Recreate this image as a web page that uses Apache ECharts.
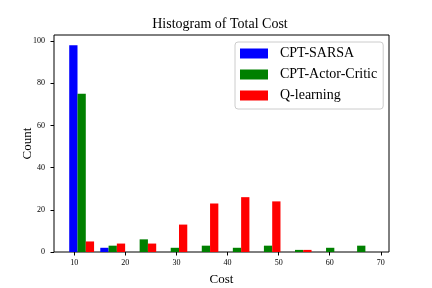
<!DOCTYPE html>
<html>
<head>
<meta charset="utf-8">
<script src="https://cdn.jsdelivr.net/npm/echarts@6/dist/echarts.min.js"></script>
<style>html,body{margin:0;padding:0;background:#fff}#c{width:432px;height:288px}</style>
</head>
<body>
<div id="c"></div>
<script>
// Histogram bin edges (Cost)
const binEdges = [8.41, 14.49, 20.57, 26.65, 32.73, 38.81, 44.89, 50.97, 57.05, 63.13, 69.21];
const seriesNames = ['CPT-SARSA', 'CPT-Actor-Critic', 'Q-learning'];
const sarsaCounts = [98, 2, 0, 0, 0, 0, 0, 0, 0, 0];
const actorCriticCounts = [75, 3, 6, 2, 3, 2, 3, 1, 2, 3];
const qLearningCounts = [5, 4, 4, 13, 23, 26, 24, 1, 0, 0];
const xTicks = [10, 20, 30, 40, 50, 60, 70];
const yTicks = [0, 20, 40, 60, 80, 100];

const colors = ['#0000ff', '#008000', '#ff0000'];
const allCounts = [sarsaCounts, actorCriticCounts, qLearningCounts];
const FONT = 'Liberation Serif';

function makeSeries(idx) {
  const data = allCounts[idx].map((c, i) => [binEdges[i], binEdges[i + 1], c]);
  return {
    name: seriesNames[idx],
    type: 'custom',
    itemStyle: { color: colors[idx] },
    encode: { x: [0, 1], y: 2 },
    data: data,
    renderItem: function (params, api) {
      const lo = api.value(0), hi = api.value(1), c = api.value(2);
      if (c <= 0) return null;
      const dw = hi - lo;
      const w = dw * 0.8 / 3;
      const x0 = lo + dw * 0.1 + idx * w;
      const p0 = api.coord([x0, c]);
      const p1 = api.coord([x0 + w, 0]);
      return {
        type: 'rect',
        shape: { x: p0[0], y: p0[1], width: p1[0] - p0[0], height: p1[1] - p0[1] },
        style: { fill: colors[idx] }
      };
    }
  };
}

const chart = echarts.init(document.getElementById('c'), null, { renderer: 'canvas' });
chart.setOption({
  animation: false,
  backgroundColor: '#fff',
  title: {
    text: 'Histogram of Total Cost',
    left: 220, top: 17, textAlign: 'center', padding: 0,
    textStyle: { fontFamily: FONT, fontSize: 14, fontWeight: 'normal', color: '#000' }
  },
  legend: {
    orient: 'vertical',
    left: 235, top: 42,
    padding: [4, 6, 6, 5],
    itemGap: 6,
    itemWidth: 28, itemHeight: 10,
    icon: 'rect',
    borderColor: '#cccccc', borderWidth: 1, borderRadius: 3,
    backgroundColor: 'rgba(255,255,255,0.8)',
    data: seriesNames.map((n, i) => ({ name: n, itemStyle: { color: colors[i] } })),
    textStyle: { fontFamily: FONT, fontSize: 14, color: '#000', lineHeight: 15, padding: [0, 0, 0, 7] }
  },
  grid: {
    left: 54, right: 43, top: 35, bottom: 36,
    containLabel: false, outerBoundsMode: 'none',
    show: true, borderColor: '#000', borderWidth: 1, backgroundColor: 'transparent'
  },
  xAxis: {
    type: 'value', min: 6.04, max: 71.6,
    name: 'Cost', nameLocation: 'middle', nameGap: 21,
    nameTextStyle: { fontFamily: FONT, fontSize: 13, color: '#000' },
    axisLine: { show: false },
    splitLine: { show: false },
    axisTick: { show: true, length: 3.5, customValues: xTicks, lineStyle: { color: '#000' } },
    axisLabel: { customValues: xTicks, fontFamily: FONT, fontSize: 8, color: '#000', margin: 7 }
  },
  yAxis: {
    type: 'value', min: 0, max: 102.9,
    name: 'Count', nameLocation: 'middle', nameGap: 20, nameMoveOverlap: false,
    nameTextStyle: { fontFamily: FONT, fontSize: 13, color: '#000' },
    axisLine: { show: false },
    splitLine: { show: false },
    axisTick: { show: true, length: 3.5, customValues: yTicks, lineStyle: { color: '#000' } },
    axisLabel: { customValues: yTicks, fontFamily: FONT, fontSize: 8, color: '#000', margin: 9 }
  },
  series: [makeSeries(0), makeSeries(1), makeSeries(2)]
});
</script>
</body>
</html>
